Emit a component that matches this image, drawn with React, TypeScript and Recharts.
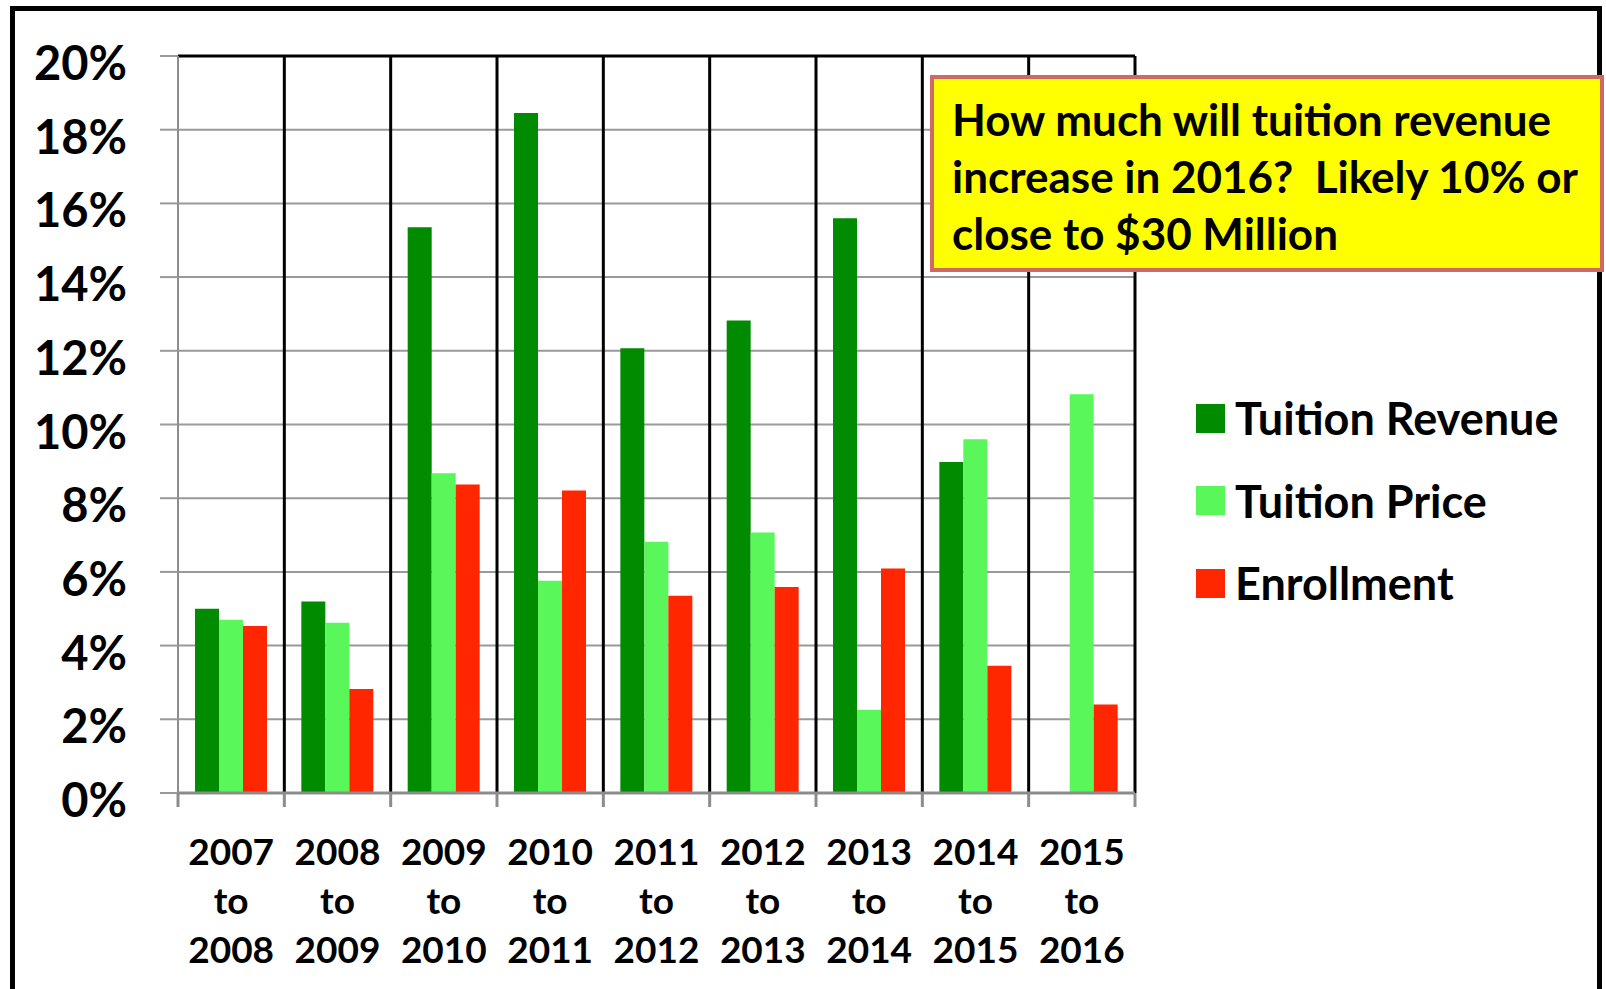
import React from "react";
import {
  BarChart,
  Bar,
  XAxis,
  YAxis,
  CartesianGrid,
  ReferenceLine,
} from "recharts";

const CATEGORIES = [
  "2007 to 2008",
  "2008 to 2009",
  "2009 to 2010",
  "2010 to 2011",
  "2011 to 2012",
  "2012 to 2013",
  "2013 to 2014",
  "2014 to 2015",
  "2015 to 2016",
];
const TUITION_REVENUE = [5.0, 5.2, 15.35, 18.45, 12.07, 12.82, 15.6, 8.98, null];
const TUITION_PRICE = [4.7, 4.62, 8.68, 5.76, 6.82, 7.07, 2.26, 9.6, 10.82];
const ENROLLMENT = [4.53, 2.82, 8.37, 8.21, 5.35, 5.59, 6.09, 3.45, 2.4];
const Y_TICKS = [0, 2, 4, 6, 8, 10, 12, 14, 16, 18, 20];

const SERIES = [
  { key: "revenue", name: "Tuition Revenue", color: "#008b00" },
  { key: "price", name: "Tuition Price", color: "#5af75a" },
  { key: "enrollment", name: "Enrollment", color: "#ff2600" },
];

const NOTE_LINES = [
  "How much will tuition revenue",
  "increase in 2016?  Likely 10% or",
  "close to $30 Million",
];

const FONT = "Lato, 'Open Sans', sans-serif";
const W = 1606;
const H = 989;
const PLOT_LEFT = 178;
const PLOT_RIGHT = 1135;
const BAND = (PLOT_RIGHT - PLOT_LEFT) / CATEGORIES.length;

const data = CATEGORIES.map((c, i) => ({
  label: c,
  revenue: TUITION_REVENUE[i],
  price: TUITION_PRICE[i],
  enrollment: ENROLLMENT[i],
}));

const YTick = ({ x, y, payload }: any) => (
  <text
    x={x}
    y={y + 6}
    textAnchor="end"
    dominantBaseline="central"
    fontFamily={FONT}
    fontWeight={700}
    fontSize={47}
    fill="#000"
  >
    {payload.value}%
  </text>
);

const XTick = ({ x, y, payload, index }: any) => {
  const words = String(payload.value).split(" ");
  return (
    <g>
      <line x1={x - BAND / 2} x2={x - BAND / 2} y1={y - 14} y2={y} stroke="#8c8c8c" strokeWidth={3} />
      {index === CATEGORIES.length - 1 && (
        <line x1={x + BAND / 2} x2={x + BAND / 2} y1={y - 14} y2={y} stroke="#8c8c8c" strokeWidth={3} />
      )}
      {words.map((w, i) => (
        <text
          key={i}
          x={x}
          y={y + 43 + i * 49}
          textAnchor="middle"
          dominantBaseline="central"
          fontFamily={FONT}
          fontWeight={700}
          fontSize={37}
          fill="#000"
        >
          {w}
        </text>
      ))}
    </g>
  );
};

export default function App() {
  return (
    <div
      style={{
        position: "absolute",
        left: 0,
        top: 0,
        width: W,
        height: H,
        overflow: "hidden",
        background: "#fff",
      }}
    >
      <div
        style={{
          position: "absolute",
          left: 10,
          top: 6,
          width: 1592,
          height: 1100,
          boxSizing: "border-box",
          border: "5px solid #000",
        }}
      />
      <div style={{ position: "absolute", left: 0, top: 0 }}>
        <BarChart
          width={W}
          height={H}
          data={data}
          margin={{ top: 56, right: W - PLOT_RIGHT, bottom: 46, left: 0 }}
          barCategoryGap="16%"
          barGap={0}
        >
          <CartesianGrid vertical={false} stroke="#999" strokeWidth={2} />
          <CartesianGrid
            horizontal={false}
            stroke="#000"
            strokeWidth={3}
            verticalCoordinatesGenerator={({ offset }: any) =>
              CATEGORIES.map((_, i) => offset.left + ((i + 1) * offset.width) / CATEGORIES.length)
            }
          />
          <XAxis
            dataKey="label"
            height={150}
            interval={0}
            tickLine={false}
            tickSize={14}
            tickMargin={0}
            axisLine={{ stroke: "#8c8c8c", strokeWidth: 3 }}
            tick={<XTick />}
          />
          <YAxis
            width={PLOT_LEFT}
            domain={[0, 20]}
            ticks={Y_TICKS}
            tickSize={18}
            tickMargin={33}
            tickLine={{ stroke: "#999", strokeWidth: 2 }}
            axisLine={{ stroke: "#8c8c8c", strokeWidth: 2 }}
            tick={<YTick />}
          />
          <ReferenceLine y={20} stroke="#000" strokeWidth={3} />
          {SERIES.map((s) => (
            <Bar key={s.key} dataKey={s.key} name={s.name} fill={s.color} isAnimationActive={false} />
          ))}
        </BarChart>
      </div>
      <div
        style={{
          position: "absolute",
          left: 930,
          top: 75,
          width: 674,
          height: 197,
          boxSizing: "border-box",
          background: "#ffff00",
          border: "4px solid #cf6a62",
          padding: "12px 0 0 18px",
          fontFamily: FONT,
          fontWeight: 700,
          fontSize: 44,
          lineHeight: "57px",
          color: "#000",
          whiteSpace: "pre",
        }}
      >
        {NOTE_LINES.map((l, i) => (
          <div key={i}>{l}</div>
        ))}
      </div>
      <div style={{ position: "absolute", left: 1196, top: 377 }}>
        {SERIES.map((s) => (
          <div
            key={s.key}
            style={{ display: "flex", alignItems: "center", height: 82.5 }}
          >
            <div style={{ width: 29, height: 29, background: s.color, marginRight: 10 }} />
            <span
              style={{ fontFamily: FONT, fontWeight: 700, fontSize: 45, color: "#000" }}
            >
              {s.name}
            </span>
          </div>
        ))}
      </div>
    </div>
  );
}
